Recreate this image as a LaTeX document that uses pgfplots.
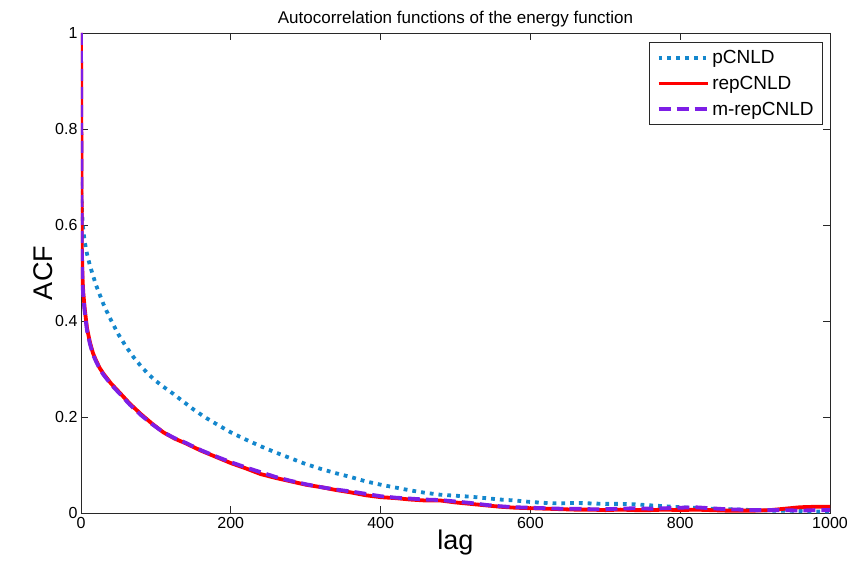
\documentclass[border=0pt]{standalone}
\usepackage{fontspec}
\setmainfont{Liberation Sans}
\usepackage{pgfplots}
\pgfplotsset{compat=1.18}
\definecolor{cblue}{RGB}{20,135,205}
\definecolor{cpurple}{RGB}{125,30,230}
\definecolor{axgray}{RGB}{40,40,40}
\begin{document}
\begin{tikzpicture}
\begin{axis}[
  scale only axis,
  width=749pt, height=480pt,
  xmin=0, xmax=1000, ymin=0, ymax=1,
  xtick={0,200,400,600,800,1000},
  xticklabels={0,200,400,600,800,1000},
  ytick={0,0.2,0.4,0.6,0.8,1},
  yticklabels={0,0.2,0.4,0.6,0.8,1},
  tick align=inside,
  major tick length=7pt,
  tick style={axgray, line width=0.8pt},
  axis line style={axgray, line width=0.8pt},
  /pgf/number format/assume math mode=true,
  tick label style={font=\fontsize{16}{18}\selectfont},
  xticklabel style={yshift=-1pt},
  title={Autocorrelation functions of the energy function},
  title style={font=\fontsize{17}{19}\selectfont, yshift=-4pt},
  xlabel={lag},
  ylabel={ACF},
  label style={font=\fontsize{27}{30}\selectfont},
  xlabel style={yshift=6pt},
  ylabel style={yshift=-4pt},
  legend style={at={(rel axis cs:1,1)}, anchor=north east, xshift=-7pt, yshift=-9pt,
    draw=axgray, line width=0.8pt, font=\fontsize{19}{21}\selectfont,
    row sep=7pt, inner xsep=7pt, inner ysep=6pt},
  legend cell align=left,
  legend image code/.code={\draw[#1] (0cm,0cm) -- (1.75cm,0cm);},
]
\addplot[cblue, line width=3.8pt, dash pattern=on 3.8pt off 5pt] coordinates {
(0,0.69) (1,0.64) (2,0.61) (3,0.59) (5,0.565) (8,0.54) (12,0.515) (16,0.495)
(20,0.475) (25,0.455) (30,0.435) (35,0.418) (40,0.402) (50,0.372) (60,0.347)
(70,0.325) (80,0.306) (90,0.289) (100,0.275) (110,0.263) (120,0.252) (135,0.234)
(150,0.216) (165,0.2) (180,0.186) (200,0.168) (220,0.153) (240,0.139) (260,0.126)
(280,0.114) (300,0.102) (320,0.092) (340,0.083) (360,0.075) (380,0.066) (400,0.059)
(420,0.053) (440,0.047) (460,0.042) (480,0.038) (500,0.036) (520,0.034) (540,0.031)
(560,0.028) (580,0.026) (600,0.023) (620,0.021) (640,0.020) (660,0.021) (680,0.020)
(700,0.019) (720,0.019) (740,0.018) (760,0.016) (780,0.014) (800,0.012) (820,0.011)
(840,0.009) (860,0.008) (880,0.007) (900,0.006) (920,0.005) (940,0.005) (960,0.004)
(980,0.003) (1000,0.003)
};
\addlegendentry{pCNLD}
\addplot[red, line width=3.8pt] coordinates {
(0,1.0) (1,0.56) (2,0.49) (3,0.46) (5,0.425) (8,0.385) (12,0.355) (16,0.333)
(20,0.318) (25,0.302) (30,0.29) (40,0.27) (52,0.25) (65,0.228) (80,0.206)
(95,0.186) (110,0.168) (125,0.155) (140,0.145) (160,0.13) (180,0.117) (200,0.104)
(220,0.093) (240,0.081) (260,0.073) (280,0.066) (300,0.059) (320,0.054) (340,0.048)
(360,0.043) (380,0.037) (400,0.033) (420,0.031) (440,0.028) (460,0.026) (480,0.026)
(500,0.022) (520,0.019) (540,0.016) (560,0.013) (580,0.011) (600,0.010) (620,0.009)
(640,0.008) (660,0.007) (680,0.007) (700,0.006) (720,0.007) (740,0.006) (760,0.006)
(780,0.007) (800,0.006) (820,0.007) (840,0.006) (860,0.005) (880,0.005) (900,0.005)
(920,0.006) (940,0.009) (960,0.012) (980,0.013) (1000,0.013)
};
\addlegendentry{repCNLD}
\addplot[cpurple, line width=3.8pt, dash pattern=on 12pt off 6pt] coordinates {
(0,1.0) (1,0.55) (2,0.48) (3,0.45) (5,0.418) (8,0.38) (12,0.352) (16,0.33)
(20,0.316) (25,0.3) (30,0.288) (40,0.268) (52,0.248) (65,0.226) (80,0.204)
(95,0.185) (110,0.168) (125,0.156) (140,0.146) (160,0.131) (180,0.118) (200,0.106)
(220,0.095) (240,0.085) (260,0.075) (280,0.067) (300,0.060) (320,0.054) (340,0.049)
(360,0.045) (380,0.040) (400,0.035) (420,0.032) (440,0.030) (460,0.028) (480,0.027)
(500,0.024) (520,0.021) (540,0.017) (560,0.014) (580,0.012) (600,0.011) (620,0.010)
(640,0.009) (660,0.009) (680,0.008) (700,0.008) (720,0.009) (740,0.010) (760,0.009)
(780,0.010) (800,0.011) (820,0.012) (840,0.010) (860,0.008) (880,0.007) (900,0.006)
(920,0.006) (940,0.006) (960,0.005) (980,0.006) (1000,0.006)
};
\addlegendentry{m-repCNLD}
\end{axis}
\pgfresetboundingbox
\path[use as bounding box] (current axis.south west) ++(-81pt,-58pt) rectangle ++(851pt,571pt);
\end{tikzpicture}
\end{document}
